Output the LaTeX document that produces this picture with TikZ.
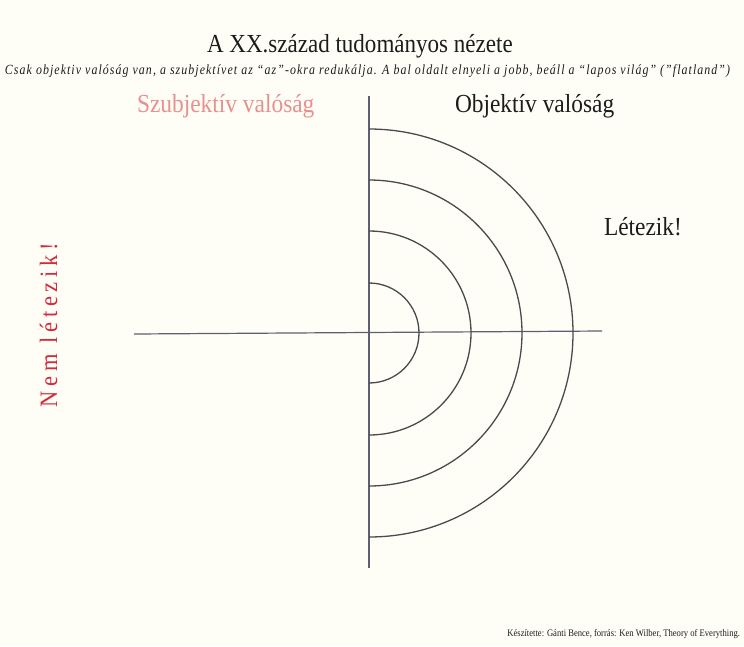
\documentclass[tikz,border=0pt]{standalone}
\usepackage{fontspec}
\setmainfont{Liberation Serif}
\newfontfamily\titlefont[FakeStretch=0.886]{Liberation Serif}
\newfontfamily\labelfont[FakeStretch=0.90]{Liberation Serif}
\newfontfamily\smallfont[FakeStretch=0.86]{Liberation Serif}
\newfontfamily\subfont[FakeStretch=0.85, LetterSpace=7.6]{Liberation Serif Italic}
\definecolor{paper}{HTML}{FFFEF6}
\definecolor{inkline}{HTML}{4A4A4E}
\definecolor{axisline}{HTML}{5C6070}
\definecolor{subjpink}{HTML}{E8908F}
\definecolor{nemred}{HTML}{D42A3C}
\definecolor{inktext}{HTML}{1C1C1C}
\tikzset{
  every node/.style={inner sep=0pt, outer sep=0pt, text=inktext},
  ring/.style={draw=inkline, line width=1.3pt},
  axis/.style={draw=axisline, line width=1.2pt},
  label/.style={font=\labelfont\fontsize{26}{26}\selectfont, anchor=base west},
}
\begin{document}
\begin{tikzpicture}[x=1pt, y=-1pt]
  \fill[paper] (0,0) rectangle (744,646);
  \useasboundingbox (0,0) rectangle (744,646);

  % headings
  \node[font=\titlefont\fontsize{26}{26}\selectfont, anchor=base west] (title) at (207,52) {A XX.század tudományos nézete};
  \node[font=\subfont\fontsize{14}{14}\selectfont, anchor=base west] (subtitle) at (5,74)
    {Csak objektiv valóság van, a szubjektívet az “az”-okra redukálja. A bal oldalt elnyeli a jobb, beáll a “lapos világ” (”flatland”)};

  % quadrant labels
  \node[label, text=subjpink] (subj) at (137,112) {Szubjektív valóság};
  \node[label] (obj) at (455,112) {Objektív valóság};
  \node[label] (letezik) at (604,235) {Létezik!};
  \node[font=\labelfont\fontsize{25}{25}\selectfont\addfontfeature{LetterSpace=19}, text=nemred, rotate=90, anchor=base] (nem) at (57,325) {Nem létezik!};

  % axes
  \coordinate (O) at (369,333);
  \coordinate (vtop) at (369,96);
  \coordinate (vbot) at (369,568);
  \coordinate (hleft) at (134,334);
  \coordinate (hright) at (602,331);
  \draw[axis] (hleft) -- (hright);
  \draw[axis] (vtop) -- (vbot);

  % concentric half rings on the right side
  \foreach \r in {50,102,153,204}
    \draw[ring] (O) ++(0,-\r) arc[start angle=-90, end angle=90, radius=\r];

  % credits
  \node[font=\smallfont\fontsize{10}{10}\selectfont, anchor=base east] (credit) at (740,636)
    {Készítette: Gánti Bence, forrás: Ken Wilber, Theory of Everything.};
\end{tikzpicture}
\end{document}
